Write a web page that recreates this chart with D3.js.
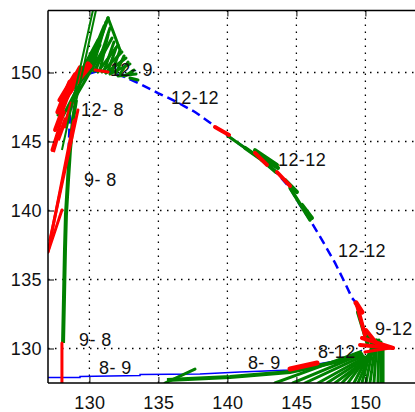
<!DOCTYPE html>
<html>
<head>
<meta charset="utf-8">
<script src="https://cdn.jsdelivr.net/npm/d3@7/dist/d3.min.js"></script>
<style>
  html, body { margin: 0; padding: 0; background: #fff; }
  svg { display: block; }
  .tick text { font-family: "Liberation Sans", Arial, sans-serif; font-size: 18px; letter-spacing: 0.4px; fill: #111; }
  .lbl { font-family: "Liberation Sans", Arial, sans-serif; font-size: 18px; letter-spacing: 0.4px; fill: #111; }
</style>
</head>
<body>
<svg id="chart" width="415" height="412"></svg>
<script>
// Axis ranges and tick labels
const xDomain = [127, 154];
const yDomain = [127.5, 154.5];
const xTicks = [130, 135, 140, 145, 150];
const yTicks = [130, 135, 140, 145, 150];

// Track along the bottom (solid thin blue)
const bottomLon = [127.00, 129.32, 129.32, 133.67, 133.67, 138.01, 140.91, 144.54, 146.57, 147.80, 149.25, 149.75];
const bottomLat = [127.90, 127.90, 127.97, 128.04, 128.11, 128.15, 128.30, 128.44, 128.88, 129.10, 129.53, 129.89];

// Track along the arc (dashed blue)
const arcLon = [149.46, 149.03, 148.52, 147.80, 146.86, 145.99, 145.26, 144.54, 143.52, 142.51, 141.28, 140.04, 138.88, 137.65, 136.20, 134.97, 133.67, 132.58, 131.49, 130.62, 129.90, 129.32, 128.88, 128.59, 128.52, 128.45];
const arcLat = [133.15, 133.66, 134.75, 136.20, 137.86, 139.31, 140.40, 141.63, 142.79, 143.66, 144.53, 145.40, 146.27, 147.14, 147.93, 148.51, 149.17, 149.67, 150.04, 150.11, 149.89, 149.31, 148.37, 146.92, 145.11, 141.99];

// Green polyline running up the left side
const leftGreenLon = [128.09, 128.16, 128.23, 128.30, 128.45, 128.59, 128.81, 129.03];
const leftGreenLat = [130.40, 133.73, 137.14, 139.67, 142.21, 144.38, 146.56, 148.01];

// Green polyline just under the bottom track
const lowGreenLon = [135.62, 140.19, 144.54, 146.86, 148.52, 149.75];
const lowGreenLat = [127.72, 127.93, 128.30, 128.80, 129.17, 129.75];

// Red zigzag on the left
const zigLon = [127.36, 127.87, 127.72, 128.30, 128.16, 128.74];
const zigLat = [144.24, 145.98, 145.11, 146.70, 145.98, 147.86];

// Green vectors: [lon0, lat0, lon1, lat1, width]
const greenVectors = [
  // arc
  [140.04, 145.40, 141.28, 144.53, 3],
  [141.28, 144.53, 142.51, 143.66, 4],
  [142.51, 143.66, 143.52, 142.79, 4],
  [144.54, 141.63, 145.99, 139.31, 3.5],
  [142.00, 144.38, 143.59, 143.30, 4],
  [142.36, 143.88, 143.67, 143.08, 4],
  [144.17, 142.21, 145.04, 141.34, 4],
  [145.41, 140.40, 146.13, 139.46, 4],
  // upper left fan
  [129.90, 150.04, 131.35, 153.95, 3.5],
  [129.75, 150.18, 131.06, 153.37, 3],
  [130.19, 150.18, 131.20, 153.66, 3],
  [130.33, 150.11, 131.64, 152.50, 3],
  [130.48, 150.18, 131.49, 153.22, 3],
  [130.62, 150.04, 132.07, 151.99, 3],
  [130.77, 150.18, 131.35, 152.72, 3],
  [130.91, 150.04, 132.36, 151.49, 3],
  [131.06, 150.11, 131.78, 152.21, 3],
  [131.20, 149.96, 132.65, 151.05, 3],
  [131.35, 150.11, 131.93, 151.78, 3],
  [131.49, 149.89, 132.94, 150.62, 3],
  [131.64, 150.04, 132.22, 151.63, 3],
  [131.93, 149.96, 132.51, 151.20, 3],
  [132.07, 149.75, 133.38, 149.89, 3],
  [132.22, 149.89, 132.80, 150.76, 3],
  [132.58, 149.75, 133.23, 150.18, 3],
  [132.94, 149.60, 133.52, 149.46, 3],
  [131.35, 153.95, 132.22, 151.63, 3],
  [129.68, 149.46, 130.77, 152.36, 3],
  [130.62, 152.36, 127.72, 146.92, 3],
  [130.77, 151.99, 128.01, 146.70, 3],
  [131.06, 151.78, 128.45, 147.28, 3],
  // corner descent
  [149.46, 132.64, 150.19, 130.25, 4],
  [149.75, 131.70, 150.70, 129.89, 3],
  [149.97, 130.98, 151.06, 130.25, 3],
  // bottom ticks
  [135.48, 127.50, 137.65, 128.51, 3],
  // bottom right fan
  [143.45, 127.50, 149.61, 129.75, 3],
  [144.75, 127.50, 149.75, 129.60, 3],
  [145.62, 127.50, 149.83, 129.46, 3],
  [146.57, 127.50, 149.97, 129.38, 3],
  [147.22, 127.50, 150.04, 129.31, 3],
  [147.80, 127.50, 150.12, 129.24, 3],
  [148.30, 127.50, 150.19, 129.46, 3],
  [148.74, 127.50, 150.26, 129.60, 3],
  [149.17, 127.50, 150.33, 129.75, 3],
  [149.46, 127.50, 150.48, 129.89, 3],
  [149.75, 127.50, 150.48, 130.25, 3],
  [150.04, 127.50, 150.62, 130.47, 3],
  [150.33, 127.50, 150.77, 130.62, 3],
  [150.62, 127.50, 150.84, 130.62, 3],
  [150.91, 127.50, 150.99, 130.62, 3],
  [151.13, 127.50, 151.13, 130.47, 3],
  [151.28, 127.50, 151.28, 129.89, 3]
];

// Red vectors: [lon0, lat0, lon1, lat1, width]
const redVectors = [
  [139.10, 146.05, 140.12, 145.47, 4],
  [142.00, 144.17, 142.87, 143.30, 4],
  [143.59, 142.79, 144.54, 141.78, 4],
  [130.41, 150.18, 131.35, 150.04, 3],
  [127.87, 148.01, 128.96, 149.82, 5],
  [128.23, 148.37, 129.32, 150.33, 5],
  [128.59, 148.59, 129.90, 150.62, 5],
  [128.88, 149.09, 130.04, 150.47, 5],
  [127.72, 147.14, 128.59, 149.31, 5],
  [128.01, 147.64, 128.74, 148.88, 5],
  [127.51, 145.83, 128.45, 148.37, 4],
  [127.29, 144.38, 128.16, 147.14, 3],
  [127.00, 137.00, 128.01, 140.04, 3],
  [127.00, 137.00, 128.88, 146.56, 3],
  [127.14, 137.86, 129.17, 147.28, 3],
  [128.01, 127.50, 128.01, 130.40, 3],
  [144.54, 128.51, 146.50, 128.95, 5],
  [149.39, 133.15, 149.97, 130.98, 4],
  [149.32, 133.30, 149.75, 132.64, 5],
  [149.75, 130.76, 152.00, 130.04, 4],
  [149.61, 130.25, 152.00, 130.04, 4],
  [149.97, 129.75, 151.78, 130.04, 3],
  [150.04, 131.34, 150.91, 130.25, 4]
];

// Thin green lines reaching the top
const longGreen = [
  [128.01, 144.38, 130.26, 154.53],
  [128.74, 146.56, 130.48, 154.53]
];

// Text labels placed at track positions
const labelText = ["12- 9", "12- 8", "9- 8", "12-12", "12-12", "12-12", "9-12", "8-12", "8- 9", "8- 9", "9- 8"];
const labelLon  = [131.49, 129.39, 129.61, 135.91, 143.67, 148.01, 150.70, 146.57, 141.49, 130.70, 129.25];
const labelLat  = [150.18, 147.28, 142.21, 148.15, 143.66, 137.07, 131.41, 129.75, 128.95, 128.59, 130.62];

const svg = d3.select("#chart");
const padL = 48, padB = 383, unit = 13.8;
const x = d3.scaleLinear().domain(xDomain).range([padL, padL + (xDomain[1] - xDomain[0]) * unit]);
const y = d3.scaleLinear().domain(yDomain).range([padB, padB - (yDomain[1] - yDomain[0]) * unit]);
const padT = y(yDomain[1]);
const padR = 415;

svg.append("defs").append("clipPath").attr("id", "plotclip")
  .append("rect").attr("x", padL).attr("y", padT).attr("width", padR - padL).attr("height", padB - padT);

// dotted grid
const grid = svg.append("g");
grid.selectAll("line.gx").data(xTicks).join("line").attr("class", "gx")
  .attr("x1", d => x(d)).attr("x2", d => x(d)).attr("y1", padT).attr("y2", padB)
  .attr("stroke", "#000").attr("stroke-width", 1.3).attr("stroke-dasharray", "1.5,5.5");
grid.selectAll("line.gy").data(yTicks).join("line").attr("class", "gy")
  .attr("x1", padL).attr("x2", padR).attr("y1", d => y(d)).attr("y2", d => y(d))
  .attr("stroke", "#000").attr("stroke-width", 1.3).attr("stroke-dasharray", "1.5,5.5");

const plot = svg.append("g").attr("clip-path", "url(#plotclip)");
const line = d3.line().x(d => x(d[0])).y(d => y(d[1]));

// blue track
plot.append("path").datum(d3.zip(bottomLon, bottomLat)).attr("d", line)
  .attr("fill", "none").attr("stroke", "#0000ff").attr("stroke-width", 1.5);
plot.append("path").datum(d3.zip(arcLon, arcLat)).attr("d", line)
  .attr("fill", "none").attr("stroke", "#0000ff").attr("stroke-width", 2.5)
  .attr("stroke-dasharray", "9,5");

// green polylines
plot.append("path").datum(d3.zip(leftGreenLon, leftGreenLat)).attr("d", line)
  .attr("fill", "none").attr("stroke", "#008000").attr("stroke-width", 4);
plot.append("path").datum(d3.zip(lowGreenLon, lowGreenLat)).attr("d", line)
  .attr("fill", "none").attr("stroke", "#008000").attr("stroke-width", 4);

// green vectors
plot.selectAll("line.gv").data(greenVectors).join("line").attr("class", "gv")
  .attr("x1", d => x(d[0])).attr("y1", d => y(d[1]))
  .attr("x2", d => x(d[2])).attr("y2", d => y(d[3]))
  .attr("stroke", "#008000").attr("stroke-width", d => d[4]).attr("stroke-linecap", "round");

// red vectors
plot.selectAll("line.rv").data(redVectors).join("line").attr("class", "rv")
  .attr("x1", d => x(d[0])).attr("y1", d => y(d[1]))
  .attr("x2", d => x(d[2])).attr("y2", d => y(d[3]))
  .attr("stroke", "#ff0000").attr("stroke-width", d => d[4]).attr("stroke-linecap", "round");
plot.append("path").datum(d3.zip(zigLon, zigLat)).attr("d", line)
  .attr("fill", "none").attr("stroke", "#ff0000").attr("stroke-width", 4);

// thin green lines
plot.selectAll("line.lg").data(longGreen).join("line").attr("class", "lg")
  .attr("x1", d => x(d[0])).attr("y1", d => y(d[1]))
  .attr("x2", d => x(d[2])).attr("y2", d => y(d[3]))
  .attr("stroke", "#008000").attr("stroke-width", 2);

// axes, ticks pointing inward
const axL = svg.append("g").attr("transform", `translate(${padL},0)`)
  .call(d3.axisLeft(y).tickValues(yTicks).tickFormat(d3.format("d")).tickSize(-6).tickPadding(6));
const axB = svg.append("g").attr("transform", `translate(0,${padB})`)
  .call(d3.axisBottom(x).tickValues(xTicks).tickFormat(d3.format("d")).tickSize(-6).tickPadding(13));
const axT = svg.append("g").attr("transform", `translate(0,${padT})`)
  .call(d3.axisTop(x).tickValues(xTicks).tickFormat("").tickSize(-6));
[axL, axB, axT].forEach(g => {
  g.attr("font-family", null).attr("font-size", null);
  g.select(".domain").attr("stroke", "#000").attr("stroke-width", 1.5);
  g.selectAll(".tick line").attr("stroke", "#000");
});
axL.select(".domain").attr("d", `M0,${padB}V${padT}`);
axB.select(".domain").attr("d", `M${padL},0H${padR}`);
axT.select(".domain").attr("d", `M${padL},0H${padR}`);

// labels
svg.append("g").selectAll("text").data(labelText).join("text")
  .attr("class", "lbl")
  .attr("x", (d, i) => x(labelLon[i]))
  .attr("y", (d, i) => y(labelLat[i]))
  .attr("dy", "0.35em")
  .style("white-space", "pre")
  .text(d => d);
</script>
</body>
</html>
